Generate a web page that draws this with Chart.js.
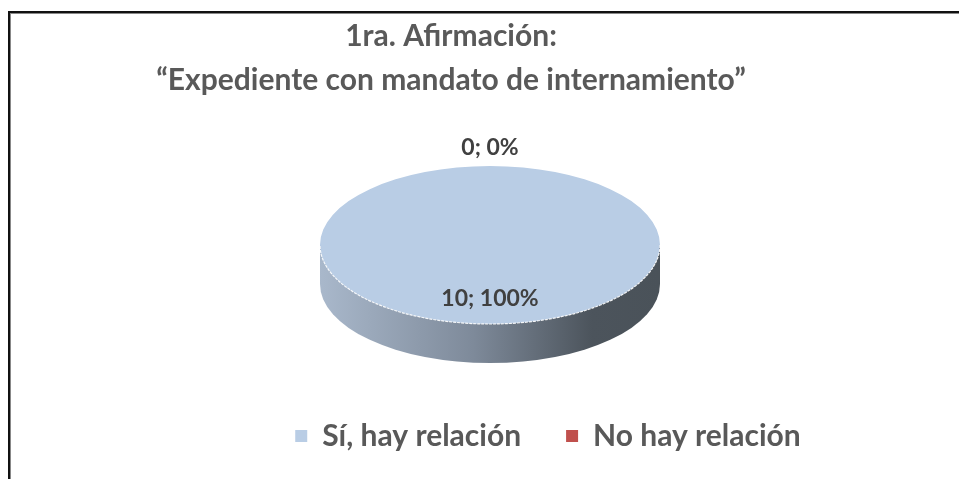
<!DOCTYPE html>
<html>
<head>
<meta charset="utf-8">
<script src="https://cdn.jsdelivr.net/npm/chart.js@4/dist/chart.umd.min.js"></script>
<style>
    html, body { margin: 0; padding: 0; background: #fff; overflow: hidden; }
    #wrap { position: relative; width: 959px; height: 479px; overflow: hidden; }
    #frame {
        position: absolute; left: 8px; top: 11px; width: 1000px; height: 500px;
        border-left: 2px solid #111; border-top: 2px solid #111;
        box-shadow: inset 1px 1px 0 #888;
    }
    #chart { position: absolute; left: 0; top: 0; }
</style>
</head>
<body>
<div id="wrap">
    <div id="frame"></div>
    <canvas id="chart" width="980" height="479"></canvas>
</div>
<script>
// ==========================================================================================================
// -- Data --
// ==========================================================================================================

const titleLines = ['1ra. Afirmación:', '“Expediente con mandato de internamiento”'];
const categories = ['Sí, hay relación', 'No hay relación'];
const values = [10, 0];
const sliceColors = ['#B9CDE5', '#C0504D'];

// 3D look (ellipse size in px, wall depth)
const PIE_RX = 170;
const PIE_RY = 79;
const PIE_DEPTH = 39;

const textFont = 'Lato, "Open Sans", sans-serif';

// ==========================================================================================================
// -- Plugins --
// ==========================================================================================================

// Tilt the pie and draw its side wall ------------------------------------------------------------
const tiltPlugin = {
    id: 'tilt',
    beforeDatasetsDraw(chart) {
        const arc = chart.getDatasetMeta(0).data[0];
        if (!arc) return;
        const ctx = chart.ctx;
        const cx = arc.x, cy = arc.y;

        // side wall
        const grad = ctx.createLinearGradient(cx - PIE_RX, 0, cx + PIE_RX, 0);
        grad.addColorStop(0, '#A9B8CB');
        grad.addColorStop(0.45, '#7E8A9A');
        grad.addColorStop(0.8, '#4C545C');
        grad.addColorStop(1, '#4A5259');
        ctx.save();
        ctx.beginPath();
        ctx.moveTo(cx + PIE_RX, cy);
        ctx.lineTo(cx + PIE_RX, cy + PIE_DEPTH);
        ctx.ellipse(cx, cy + PIE_DEPTH, PIE_RX, PIE_RY, 0, 0, Math.PI);
        ctx.lineTo(cx - PIE_RX, cy);
        ctx.closePath();
        ctx.fillStyle = grad;
        ctx.fill();
        ctx.restore();

        // squash the top face
        const r = arc.outerRadius;
        ctx.save();
        ctx.translate(cx, cy);
        ctx.scale(PIE_RX / r, PIE_RY / r);
        ctx.translate(-cx, -cy);
    },
    afterDatasetsDraw(chart) {
        const arc = chart.getDatasetMeta(0).data[0];
        if (!arc) return;
        const ctx = chart.ctx;
        ctx.restore();

        // thin white rim on the front edge
        ctx.save();
        ctx.beginPath();
        ctx.ellipse(arc.x, arc.y, PIE_RX, PIE_RY, 0, 0, Math.PI);
        ctx.strokeStyle = 'rgba(255,255,255,0.9)';
        ctx.lineWidth = 1.2;
        ctx.setLineDash([3, 1]);
        ctx.stroke();
        ctx.restore();
    }
};

// Value; percent labels -----------------------------------------------------------------------------
const labelPlugin = {
    id: 'sliceLabels',
    afterDatasetsDraw(chart) {
        const meta = chart.getDatasetMeta(0);
        const data = chart.data.datasets[0].data;
        const total = data.reduce((a, b) => a + b, 0);
        const ctx = chart.ctx;
        ctx.save();
        ctx.font = `bold 23px ${textFont}`;
        ctx.fillStyle = '#404040';
        ctx.textAlign = 'center';
        ctx.textBaseline = 'middle';
        meta.data.forEach((arc, i) => {
            const v = data[i];
            const pct = Math.round(v / total * 100);
            const mid = (arc.startAngle + arc.endAngle) / 2;
            const f = v > 0 ? 0.68 : 1.23;
            const x = arc.x + Math.cos(mid) * PIE_RX * f;
            const y = arc.y + Math.sin(mid) * PIE_RY * f;
            ctx.fillText(`${v}; ${pct}%`, x, y);
        });
        ctx.restore();
    }
};

// Nudge title and legend sideways like the original layout -------------------------------------
const nudgePlugin = {
    id: 'nudge',
    afterLayout(chart) {
        if (chart.titleBlock) {
            chart.titleBlock.left -= 39;
            chart.titleBlock.right -= 39;
        }
        if (chart.legend) {
            chart.legend.left += 58;
            chart.legend.right += 58;
        }
    }
};

// ==========================================================================================================
// -- Chart --
// ==========================================================================================================

const ctx = document.getElementById('chart').getContext('2d');

new Chart(ctx, {
    type: 'pie',
    data: {
        labels: categories,
        datasets: [{
            data: values,
            backgroundColor: sliceColors,
            borderWidth: 0,
        }],
    },
    options: {
        responsive: false,
        animation: false,
        layout: { padding: { top: 0, bottom: 18, left: 0, right: 0 } },
        plugins: {
            title: {
                display: true,
                text: titleLines,
                color: '#595959',
                font: { family: textFont, size: 30, weight: 'bold', lineHeight: 1.45 },
                padding: { top: 15, bottom: 12 },
            },
            legend: {
                position: 'bottom',
                labels: {
                    color: '#595959',
                    font: { family: textFont, size: 30, weight: 'bold' },
                    boxWidth: 12,
                    boxHeight: 12,
                    padding: 45,
                },
            },
            tooltip: { enabled: false },
        },
    },
    plugins: [tiltPlugin, labelPlugin, nudgePlugin],
});
</script>
</body>
</html>
